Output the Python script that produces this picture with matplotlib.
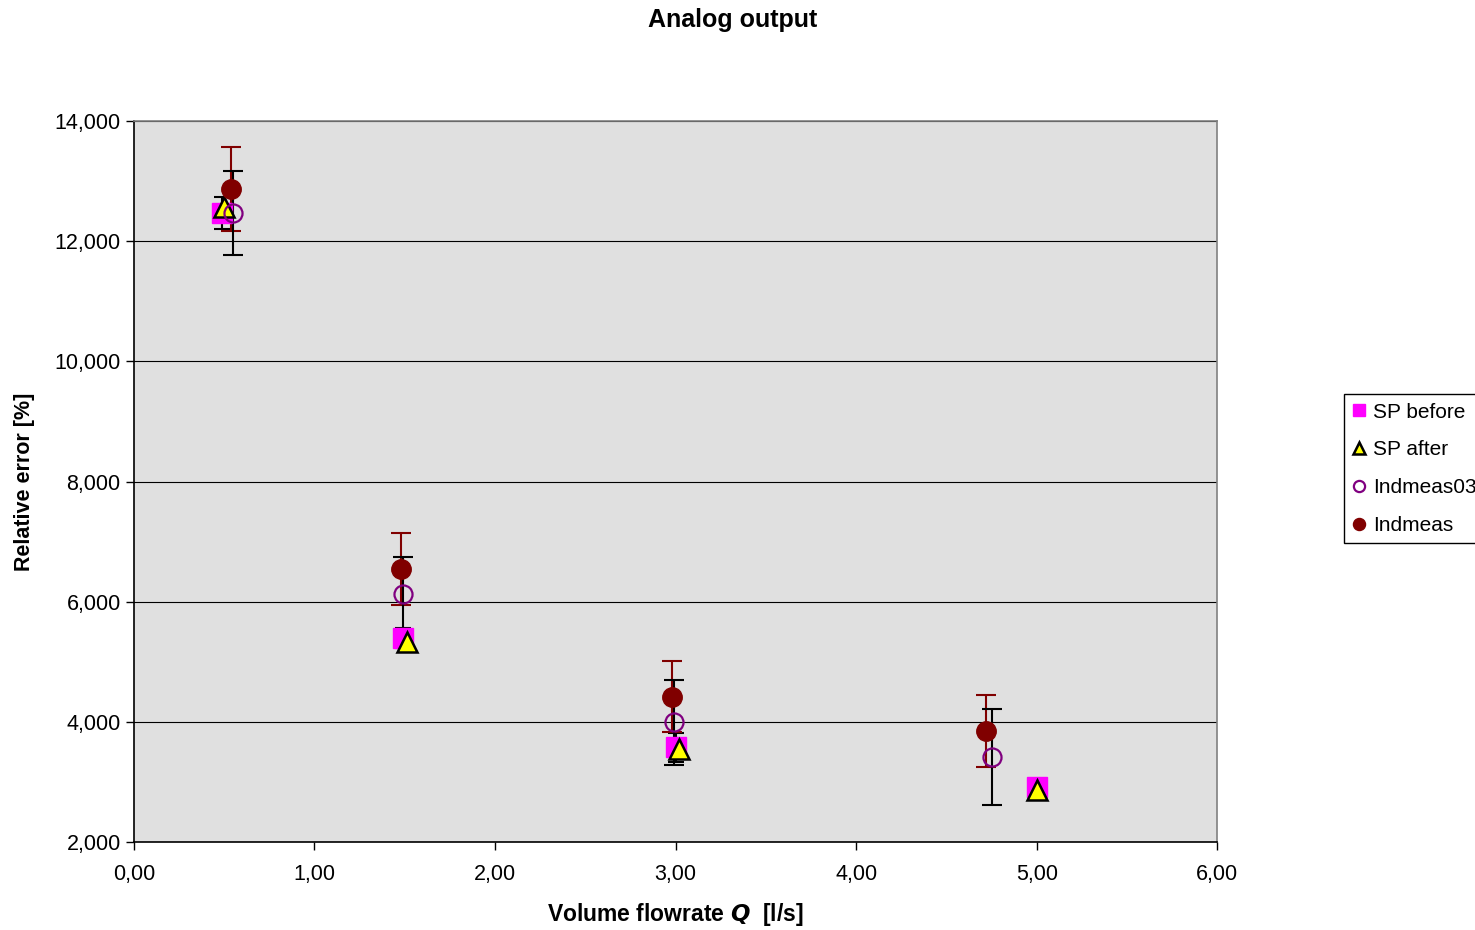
import matplotlib.pyplot as plt
from matplotlib.ticker import FuncFormatter, MultipleLocator

plt.rcParams['font.family'] = ['Liberation Sans', 'DejaVu Sans']

# SP before (magenta squares, small black error bars)
x_sp_before = [0.49, 1.49, 3.00, 5.00]
y_sp_before = [12.47, 5.40, 3.58, 2.92]
err_sp_before = [0.27, 0.17, 0.24, 0.10]

# SP after (yellow triangles)
x_sp_after = [0.50, 1.51, 3.02, 5.00]
y_sp_after = [12.57, 5.33, 3.55, 2.86]

# Indmeas03 (open purple circles, black error bars)
x_ind03 = [0.55, 1.49, 2.99, 4.75]
y_ind03 = [12.47, 6.12, 3.99, 3.41]
err_ind03 = [0.70, 0.62, 0.70, 0.80]

# Indmeas (dark red filled circles, dark red error bars)
x_ind = [0.54, 1.48, 2.98, 4.72]
y_ind = [12.87, 6.54, 4.42, 3.85]
err_ind = [0.70, 0.60, 0.59, 0.60]

series_labels = ['SP before', 'SP after', 'Indmeas03', 'Indmeas']

fig = plt.figure(figsize=(14.75, 9.3), dpi=100)
ax = fig.add_axes([0.0908, 0.0946, 0.7345, 0.7753])
ax.set_facecolor('#E0E0E0')

# error bars
ax.errorbar(x_sp_before, y_sp_before, yerr=err_sp_before, fmt='none',
            ecolor='black', elinewidth=1.5, capsize=6, capthick=1.5, zorder=2)
ax.errorbar(x_ind, y_ind, yerr=err_ind, fmt='none',
            ecolor='#800000', elinewidth=1.5, capsize=7, capthick=1.5, zorder=2)
ax.errorbar(x_ind03, y_ind03, yerr=err_ind03, fmt='none',
            ecolor='black', elinewidth=1.5, capsize=7, capthick=1.5, zorder=2.5)

# markers
ax.plot(x_sp_before, y_sp_before, linestyle='none', marker='s', markersize=14,
        markerfacecolor='#FF00FF', markeredgecolor='#FF00FF', label=series_labels[0], zorder=3)
ax.plot(x_sp_after, y_sp_after, linestyle='none', marker='^', markersize=14,
        markerfacecolor='#FFFF00', markeredgecolor='black', markeredgewidth=1.8,
        label=series_labels[1], zorder=4)
ax.plot(x_ind03, y_ind03, linestyle='none', marker='o', markersize=13,
        markerfacecolor='none', markeredgecolor='#800080', markeredgewidth=1.6,
        label=series_labels[2], zorder=5)
ax.plot(x_ind, y_ind, linestyle='none', marker='o', markersize=14,
        markerfacecolor='#800000', markeredgecolor='#800000',
        label=series_labels[3], zorder=6)

ax.set_xlim(0, 6)
ax.set_ylim(2, 14)
ax.xaxis.set_major_locator(MultipleLocator(1))
ax.yaxis.set_major_locator(MultipleLocator(2))
ax.xaxis.set_major_formatter(FuncFormatter(lambda v, p: f'{v:.2f}'.replace('.', ',')))
ax.yaxis.set_major_formatter(FuncFormatter(lambda v, p: f'{v:.3f}'.replace('.', ',')))
ax.tick_params(axis='both', direction='out', length=6, width=1, labelsize=15.5, colors='black')
ax.tick_params(axis='x', pad=10)
ax.yaxis.grid(True, color='black', linewidth=0.8)
ax.set_axisbelow(True)

ax.spines['left'].set_color('black')
ax.spines['bottom'].set_color('black')
ax.spines['top'].set_color('#808080')
ax.spines['right'].set_color('#808080')
for s in ax.spines.values():
    s.set_linewidth(1.2)

ax.set_xlabel('Volume flowrate $\\mathbfit{Q}$  [l/s]', fontsize=16.5, fontweight='bold', va='center')
ax.xaxis.set_label_coords(0.5, -0.101)
ax.set_ylabel('Relative error [%]', fontsize=15.5, fontweight='bold', va='center')
ax.yaxis.set_label_coords(-0.1006, 0.5)
fig.text(0.497, 0.978, 'Analog output', ha='center', va='center', fontsize=18, fontweight='bold')

leg = ax.legend(loc='upper left', bbox_to_anchor=(0.9112, 0.576), bbox_transform=fig.transFigure,
                fontsize=15, frameon=True, fancybox=False, edgecolor='black', framealpha=1,
                markerscale=0.62, handlelength=0.6, handletextpad=0.4, labelspacing=0.9,
                borderpad=0.4, borderaxespad=0)
leg.get_frame().set_linewidth(1)

fig.savefig('out.png', dpi=100)
